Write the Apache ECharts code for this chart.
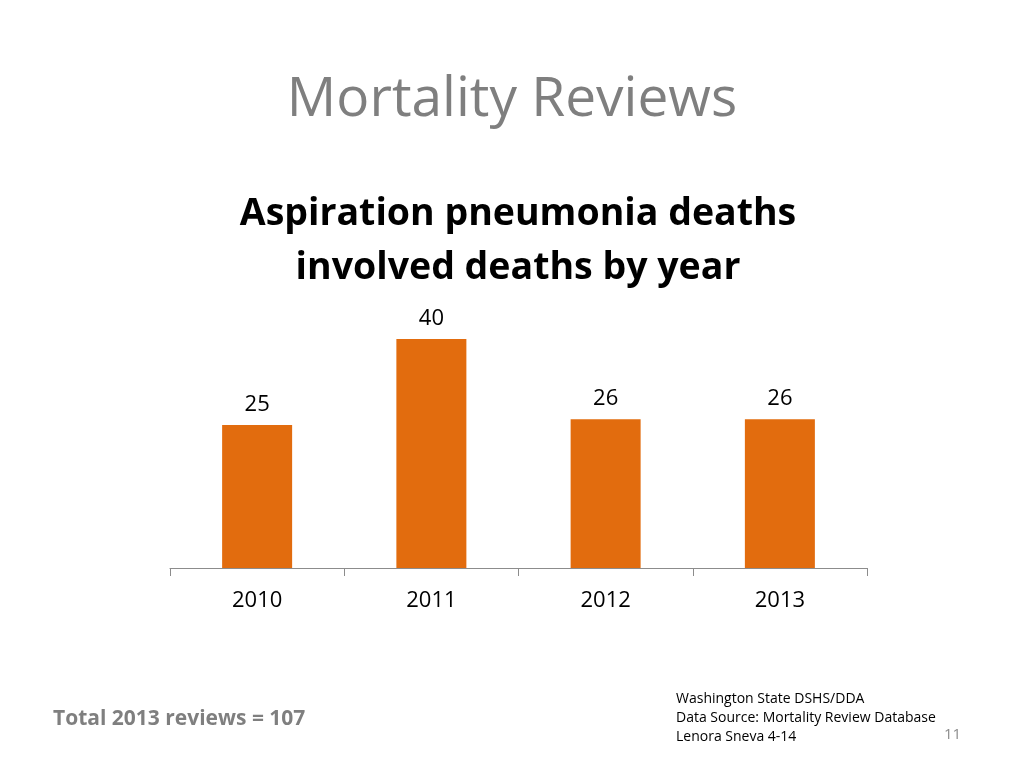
<!DOCTYPE html>
<html>
<head>
<meta charset="utf-8">
<script src="https://cdn.jsdelivr.net/npm/echarts@6/dist/echarts.min.js"></script>
<style>
  html, body { margin: 0; padding: 0; background: #fff; }
  #main { width: 1024px; height: 768px; }
</style>
</head>
<body>
<div id="main"></div>
<script>
var years = ['2010', '2011', '2012', '2013'];
var deaths = [25, 40, 26, 26];
var sourceLines = ['Washington State DSHS/DDA', 'Data Source: Mortality Review Database', 'Lenora Sneva 4-14'];

var font = 'Open Sans';
var chart = echarts.init(document.getElementById('main'));

var option = {
  animation: false,
  backgroundColor: '#fff',
  title: [{
    text: 'Mortality Reviews',
    left: 'center',
    top: 73,
    padding: 0,
    textStyle: { fontFamily: font, fontSize: 55, fontWeight: 'normal', color: '#7f7f7f' }
  }, {
    text: 'Aspiration pneumonia deaths\ninvolved deaths by year',
    left: 518,
    textAlign: 'center',
    top: 187,
    padding: 0,
    textStyle: { fontFamily: font, fontSize: 37.5, fontWeight: 'bold', color: '#000', lineHeight: 54 }
  }, {
    text: 'Total 2013 reviews = 107',
    left: 53,
    top: 709,
    padding: 0,
    textStyle: { fontFamily: font, fontSize: 21, fontWeight: 'bold', color: '#7f7f7f' }
  }, {
    text: sourceLines.join('\n'),
    left: 676,
    top: 690,
    padding: 0,
    textStyle: { fontFamily: font, fontSize: 14, fontWeight: 'normal', color: '#000', lineHeight: 19 }
  }, {
    text: '11',
    left: 944,
    top: 727,
    padding: 0,
    textStyle: { fontFamily: font, fontSize: 15, fontWeight: 'normal', color: '#8c8c8c' }
  }],
  grid: { left: 170, right: 157, top: 339, bottom: 200 },
  xAxis: {
    type: 'category',
    data: years,
    axisLine: { lineStyle: { color: '#8c8c8c', width: 1 } },
    axisTick: { show: true, length: 8, lineStyle: { color: '#8c8c8c' } },
    axisLabel: { fontFamily: font, fontSize: 22, color: '#000', margin: 22 }
  },
  yAxis: {
    type: 'value',
    min: 0,
    max: 40,
    show: false
  },
  series: [{
    type: 'bar',
    data: deaths,
    barWidth: 70,
    itemStyle: { color: '#e26c0e' },
    label: {
      show: true,
      position: 'top',
      distance: 9,
      fontFamily: font,
      fontSize: 22,
      color: '#000'
    }
  }]
};

chart.setOption(option);
</script>
</body>
</html>
